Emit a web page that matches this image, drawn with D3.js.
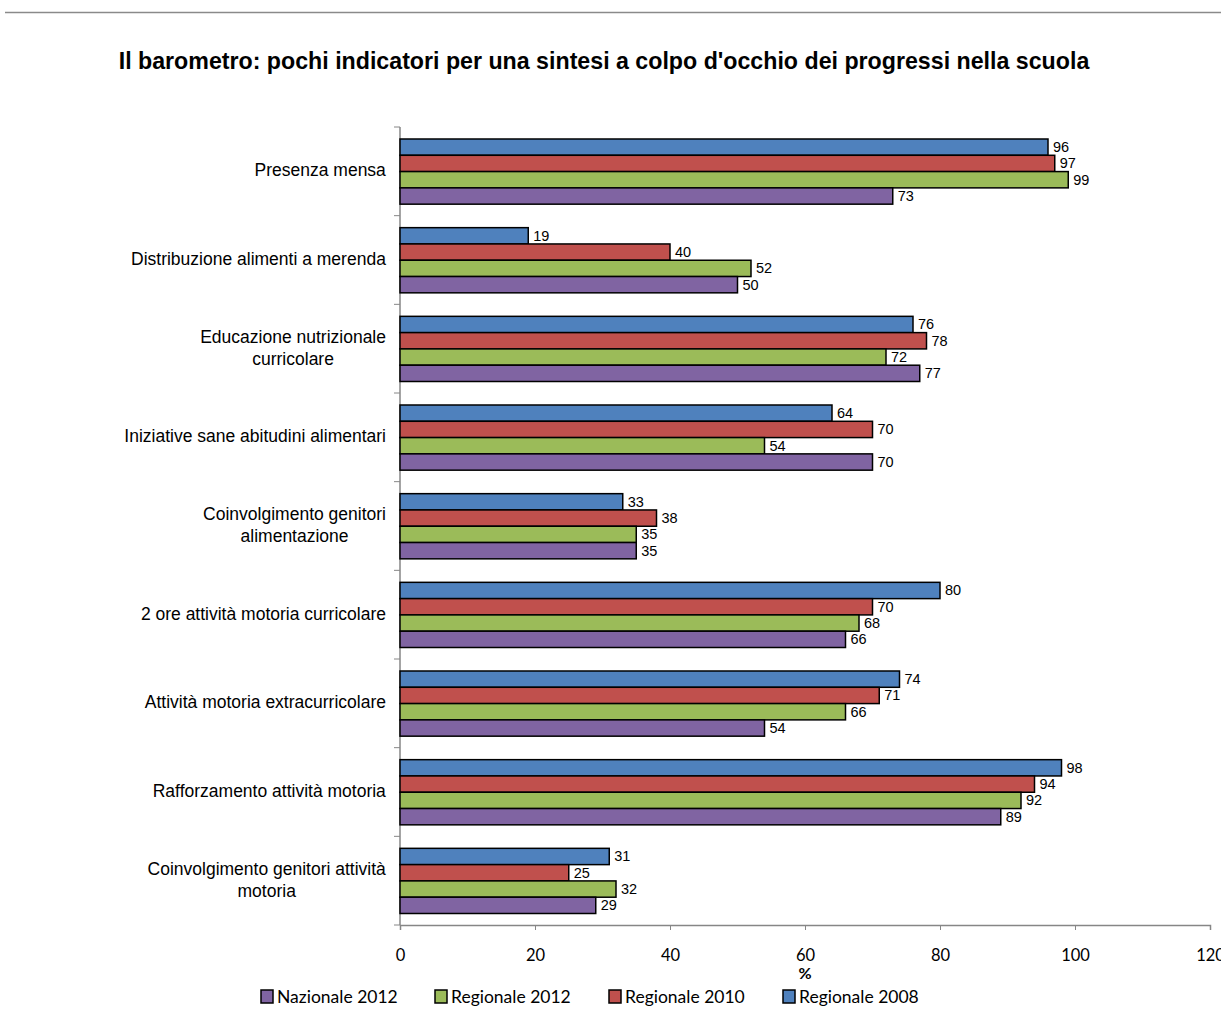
<!DOCTYPE html>
<html>
<head>
<meta charset="utf-8">
<script src="https://cdn.jsdelivr.net/npm/d3@7"></script>
<style>
  body { margin: 0; background: #fff; }
  svg { display: block; }
</style>
</head>
<body>
<svg id="chart"></svg>
<script>
var categories = [
    ['Presenza mensa'],
    ['Distribuzione alimenti a merenda'],
    ['Educazione nutrizionale', 'curricolare'],
    ['Iniziative sane abitudini alimentari'],
    ['Coinvolgimento genitori', 'alimentazione'],
    ['2 ore attività motoria curricolare'],
    ['Attività motoria extracurricolare'],
    ['Rafforzamento attività motoria'],
    ['Coinvolgimento genitori attività', 'motoria']
];
var seriesNames = ['Regionale 2008', 'Regionale 2010', 'Regionale 2012', 'Nazionale 2012'];
var seriesColors = ['#4F81BD', '#C0504D', '#9BBB59', '#8064A2'];
var regionale2008 = [96, 19, 76, 64, 33, 80, 74, 98, 31];
var regionale2010 = [97, 40, 78, 70, 38, 70, 71, 94, 25];
var regionale2012 = [99, 52, 72, 54, 35, 68, 66, 92, 32];
var nazionale2012 = [73, 50, 77, 70, 35, 66, 54, 89, 29];
var xTicks = [0, 20, 40, 60, 80, 100, 120];
var legendOrder = ['Nazionale 2012', 'Regionale 2012', 'Regionale 2010', 'Regionale 2008'];

var chartWidth = 1221,
    chartHeight = 1018,
    plotLeft = 400,
    plotRight = 1210,
    plotTop = 127,
    plotBottom = 925;

var allSeries = [regionale2008, regionale2010, regionale2012, nazionale2012];

var svg = d3.select('svg#chart')
    .attr('width', chartWidth)
    .attr('height', chartHeight);

// thin rule across the top of the page
svg.append('line')
    .attr('x1', 5).attr('x2', chartWidth)
    .attr('y1', 12.5).attr('y2', 12.5)
    .attr('stroke', '#8a8a8a')
    .attr('stroke-width', 1.5);

svg.append('text')
    .attr('x', 604)
    .attr('y', 69)
    .attr('text-anchor', 'middle')
    .attr('font-family', 'Liberation Sans, Arial, sans-serif')
    .attr('font-weight', 'bold')
    .attr('font-size', '23.2px')
    .text("Il barometro: pochi indicatori per una sintesi a colpo d'occhio dei progressi nella scuola");

var x = d3.scaleLinear().domain([0, 120]).range([plotLeft, plotRight]);
var y = d3.scaleBand().domain(d3.range(categories.length)).range([plotTop, plotBottom]);
var yInner = d3.scaleBand().domain(d3.range(seriesNames.length))
    .range([12, y.bandwidth() - 11.5]);

// x axis
var xAxis = svg.append('g')
    .attr('transform', 'translate(0,' + plotBottom + ')')
    .call(d3.axisBottom(x).tickValues(xTicks).tickSize(5).tickPadding(19));
xAxis.select('.domain').attr('stroke', '#868686').attr('stroke-width', 1.5);
xAxis.selectAll('.tick line').attr('stroke', '#868686');
xAxis.selectAll('.tick text')
    .attr('font-family', 'Lato, sans-serif')
    .attr('font-size', '16.5px')
    .attr('fill', '#000');

svg.append('text')
    .attr('x', x(60))
    .attr('y', 979)
    .attr('text-anchor', 'middle')
    .attr('font-family', 'Lato, sans-serif')
    .attr('font-weight', 'bold')
    .attr('font-size', '16px')
    .text('%');

// y axis with ticks between categories
svg.append('line')
    .attr('x1', plotLeft).attr('x2', plotLeft)
    .attr('y1', plotTop).attr('y2', plotBottom)
    .attr('stroke', '#868686').attr('stroke-width', 1.5);
svg.selectAll('.ytick')
    .data(d3.range(categories.length + 1))
    .enter().append('line')
    .attr('x1', plotLeft - 6).attr('x2', plotLeft)
    .attr('y1', function (i) { return plotTop + i * y.bandwidth(); })
    .attr('y2', function (i) { return plotTop + i * y.bandwidth(); })
    .attr('stroke', '#868686');

// category labels: block right-aligned, lines centred
var catLabels = svg.selectAll('.cat')
    .data(categories)
    .enter().append('text')
    .attr('font-family', 'Liberation Sans, Arial, sans-serif')
    .attr('font-size', '17.5px')
    .attr('fill', '#000')
    .attr('text-anchor', 'middle');
catLabels.each(function (lines, i) {
    var t = d3.select(this);
    var cy = y(i) + y.bandwidth() / 2 - 1;
    var lh = 22;
    var y0 = cy - (lines.length - 1) * lh / 2 + 6;
    lines.forEach(function (line, j) {
        t.append('tspan').attr('x', 0).attr('y', y0 + j * lh).text(line);
    });
    var w = this.getBBox().width;
    t.selectAll('tspan').attr('x', 386 - w / 2);
});

// bars
allSeries.forEach(function (values, s) {
    var g = svg.append('g');
    g.selectAll('rect')
        .data(values)
        .enter().append('rect')
        .attr('x', x(0))
        .attr('y', function (d, i) { return y(i) + yInner(s); })
        .attr('width', function (d) { return x(d) - x(0); })
        .attr('height', yInner.bandwidth())
        .attr('fill', seriesColors[s])
        .attr('stroke', '#000')
        .attr('stroke-width', 1.5);
    g.selectAll('text')
        .data(values)
        .enter().append('text')
        .attr('x', function (d) { return x(d) + 5; })
        .attr('y', function (d, i) { return y(i) + yInner(s) + yInner.bandwidth() / 2 + 5; })
        .attr('font-family', 'Liberation Sans, Arial, sans-serif')
        .attr('font-size', '14.5px')
        .attr('fill', '#000')
        .text(function (d) { return d; });
});

// legend
var legend = svg.selectAll('.legend')
    .data(legendOrder)
    .enter().append('g')
    .attr('transform', function (d, i) { return 'translate(' + (261 + i * 174) + ',990)'; });
legend.append('rect')
    .attr('width', 12).attr('height', 13)
    .attr('fill', function (d) { return seriesColors[seriesNames.indexOf(d)]; })
    .attr('stroke', '#000')
    .attr('stroke-width', 1.5);
legend.append('text')
    .attr('x', 16)
    .attr('y', 13)
    .attr('font-family', 'Lato, sans-serif')
    .attr('font-size', '17.5px')
    .text(function (d) { return d; });
</script>
</body>
</html>
